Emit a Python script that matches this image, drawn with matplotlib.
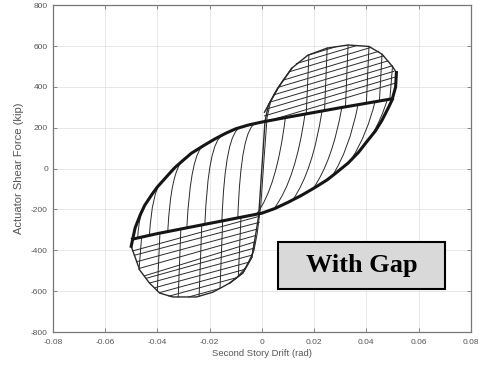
import numpy as np
import matplotlib.pyplot as plt
from matplotlib.path import Path
from matplotlib.patches import PathPatch, Rectangle

# upper branch (thick band): curve on the left, straight part to the right
u_x = [-0.050, -0.0485, -0.0465, -0.0448, -0.042, -0.040, -0.0365, -0.0333, -0.030, -0.027,
       -0.022, -0.018, -0.014, -0.010, -0.005, 0.0, 0.01, 0.02, 0.03, 0.04, 0.05]
u_y = [-380, -290, -225, -179, -125, -90, -40, 5, 42, 75,
       115, 145, 172, 195, 214, 228, 252, 275, 298, 320, 342]

# lower branch (thick band): straight part on the left, curve on the right
l_x = [-0.0495, -0.04, -0.03, -0.02, -0.01, 0.0, 0.005, 0.01, 0.015, 0.02, 0.025, 0.028,
       0.033, 0.037, 0.0406, 0.0435, 0.046, 0.0485, 0.0498, 0.0512, 0.0515]
l_y = [-345, -318, -293, -268, -243, -218, -195, -165, -132, -95, -55, -25,
       27, 80, 139, 185, 237, 300, 335, 400, 470]

# outer edge of the upper right fan
top_x = [0.001, 0.0061, 0.0115, 0.0176, 0.025, 0.033, 0.041, 0.046, 0.050, 0.0515]
top_y = [276, 394, 492, 555, 590, 605, 598, 560, 500, 470]

# outer edge of the lower left fan
bot_x = [-0.050, -0.0467, -0.043, -0.0391, -0.0341, -0.025, -0.0188, -0.0123, -0.0073, -0.0038, -0.0027]
bot_y = [-380, -497, -560, -609, -628, -628, -605, -560, -511, -433, -350]

# steep lines through the origin
s1_x = [-0.0123, -0.0073, -0.0038, -0.0027, -0.0012, 0.0, 0.0012, 0.0025, 0.0061, 0.0115]
s1_y = [-560, -511, -433, -350, -230, 0, 230, 311, 394, 492]
s2_x = [-0.0100, -0.0060, -0.0030, -0.0018, -0.0004, 0.0008, 0.0020, 0.0034, 0.0070]
s2_y = [-540, -480, -400, -320, -180, 40, 250, 330, 410]

# fan lines, upper right (start -> end)
fu_x0 = [0.006, 0.001, 0.0019, 0.003, 0.0045, 0.0065, 0.0079, 0.0105, 0.0132, 0.0174]
fu_y0 = [247, 258, 292, 325, 361, 399, 432, 474, 514, 554]
fu_x1 = [0.051, 0.051, 0.0505, 0.0499, 0.0482, 0.0466, 0.0447, 0.0417, 0.0362, 0.028]
fu_y1 = [418, 448, 476, 503, 527, 552, 574, 593, 602, 595]

# fan lines, lower left
fl_x0 = [-0.0495, -0.0488, -0.0480, -0.0468, -0.045, -0.0443, -0.043, -0.041, -0.0392, -0.0355, -0.028]
fl_y0 = [-403, -424, -456, -488, -525, -537, -560, -583, -607, -624, -628]
fl_x1 = [-0.0012, -0.001, -0.0018, -0.0023, -0.0028, -0.0032, -0.0037, -0.005, -0.0065, -0.0098, -0.0165]
fl_y1 = [-234, -263, -296, -327, -359, -390, -423, -458, -493, -534, -588]

# verticals at the peaks
vu_x0 = [0.017, 0.024, 0.032, 0.040, 0.045, 0.049]
vu_y0 = [267, 283, 301, 319, 330, 340]
vu_x1 = [0.018, 0.025, 0.033, 0.041, 0.046, 0.050]
vu_y1 = [552, 590, 605, 598, 560, 500]

vl_x0 = [-0.047, -0.040, -0.032, -0.024, -0.016, -0.009]
vl_y0 = [-494, -598, -628, -624, -586, -528]
vl_x1 = [-0.046, -0.039, -0.031, -0.023, -0.015, -0.008]
vl_y1 = [-333, -316, -297, -277, -258, -241]

# arcs on the left: lower branch -> control -> upper branch
al_x0 = [-0.0475, -0.043, -0.036, -0.0287, -0.0218, -0.0153, -0.0092]
al_y0 = [-335, -323, -306, -288, -272, -257, -243]
al_xc = [-0.047, -0.042, -0.0348, -0.0272, -0.0205, -0.014, -0.008]
al_yc = [-230, -115, -10, 80, 130, 183, 205]
al_x1 = [-0.045, -0.0385, -0.030, -0.022, -0.015, -0.008, -0.002]
al_y1 = [-185, -65, 45, 118, 165, 203, 225]

# arcs on the right: upper branch -> control -> lower branch
ar_x0 = [0.009, 0.0165, 0.023, 0.0306, 0.0368, 0.0433, 0.048]
ar_y0 = [249, 266, 280, 298, 312, 327, 338]
ar_xc = [0.0057, 0.013, 0.0195, 0.027, 0.0334, 0.0403, 0.046]
ar_yc = [-92, -49, -9, 37, 90, 170, 250]
ar_x1 = [-0.002, 0.005, 0.012, 0.0195, 0.0268, 0.0345, 0.042]
ar_y1 = [-222, -190, -150, -100, -38, 50, 160]

xticks = [-0.08, -0.06, -0.04, -0.02, 0, 0.02, 0.04, 0.06, 0.08]
xticklabels = ['-0.08', '-0.06', '-0.04', '-0.02', '0', '0.02', '0.04', '0.06', '0.08']
yticks = [-800, -600, -400, -200, 0, 200, 400, 600, 800]
yticklabels = ['-800', '-600', '-400', '-200', '0', '200', '400', '600', '800']

ink = '#2a2a2a'
thin = 0.7

fig = plt.figure(figsize=(4.8, 3.69), dpi=100)
ax = fig.add_axes([0.110, 0.100, 0.871, 0.886])

for i in range(len(fu_x0)):
    ax.plot([fu_x0[i], fu_x1[i]], [fu_y0[i], fu_y1[i]], color=ink, lw=thin)
for i in range(len(fl_x0)):
    ax.plot([fl_x0[i], fl_x1[i]], [fl_y0[i], fl_y1[i]], color=ink, lw=thin)
for i in range(len(vu_x0)):
    ax.plot([vu_x0[i], vu_x1[i]], [vu_y0[i], vu_y1[i]], color=ink, lw=thin)
for i in range(len(vl_x0)):
    ax.plot([vl_x0[i], vl_x1[i]], [vl_y0[i], vl_y1[i]], color=ink, lw=thin)

for i in range(len(al_x0)):
    p = Path([(al_x0[i], al_y0[i]), (al_xc[i], al_yc[i]), (al_x1[i], al_y1[i])],
             [Path.MOVETO, Path.CURVE3, Path.CURVE3])
    ax.add_patch(PathPatch(p, fill=False, edgecolor=ink, lw=thin))
for i in range(len(ar_x0)):
    p = Path([(ar_x0[i], ar_y0[i]), (ar_xc[i], ar_yc[i]), (ar_x1[i], ar_y1[i])],
             [Path.MOVETO, Path.CURVE3, Path.CURVE3])
    ax.add_patch(PathPatch(p, fill=False, edgecolor=ink, lw=thin))

ax.plot(top_x, top_y, color=ink, lw=1.0)
ax.plot(bot_x, bot_y, color=ink, lw=1.0)
ax.plot(s1_x, s1_y, color=ink, lw=1.0)
ax.plot(s2_x, s2_y, color=ink, lw=thin)
ax.plot(u_x, u_y, color='#151515', lw=2.2, solid_joinstyle='round')
ax.plot(l_x, l_y, color='#151515', lw=2.2, solid_joinstyle='round')

ax.set_xlim(-0.08, 0.08)
ax.set_ylim(-800, 800)
ax.set_xticks(xticks)
ax.set_xticklabels(xticklabels)
ax.set_yticks(yticks)
ax.set_yticklabels(yticklabels)
ax.grid(True, color='#e4e4e4', lw=0.6)
ax.set_axisbelow(True)
ax.tick_params(direction='in', length=3, width=0.6, color='#777777',
               labelsize=6, labelcolor='#555555', top=True, right=True)
ax.tick_params(axis='x', pad=5)
for lab in ax.get_xticklabels() + ax.get_yticklabels():
    lab.set_family('Liberation Sans')
for sp in ax.spines.values():
    sp.set_color('#777777')
    sp.set_linewidth(0.9)

ax.set_xlabel('Second Story Drift (rad)', fontsize=6.8, color='#555555',
              family='Liberation Sans', labelpad=2)
ax.set_ylabel('Actuator Shear Force (kip)', fontsize=8, color='#555555',
              family='Liberation Sans', labelpad=5)

ax.add_patch(Rectangle((0.538, 0.1315), 0.40, 0.1435, transform=ax.transAxes,
                       facecolor='#d9d9d9', edgecolor='black', lw=1.5, zorder=5))
ax.text(0.738, 0.203, 'With Gap', transform=ax.transAxes, ha='center', va='center',
        fontsize=19, fontweight='bold', family='Liberation Serif', color='black', zorder=6)

fig.savefig('out.png', dpi=100)
